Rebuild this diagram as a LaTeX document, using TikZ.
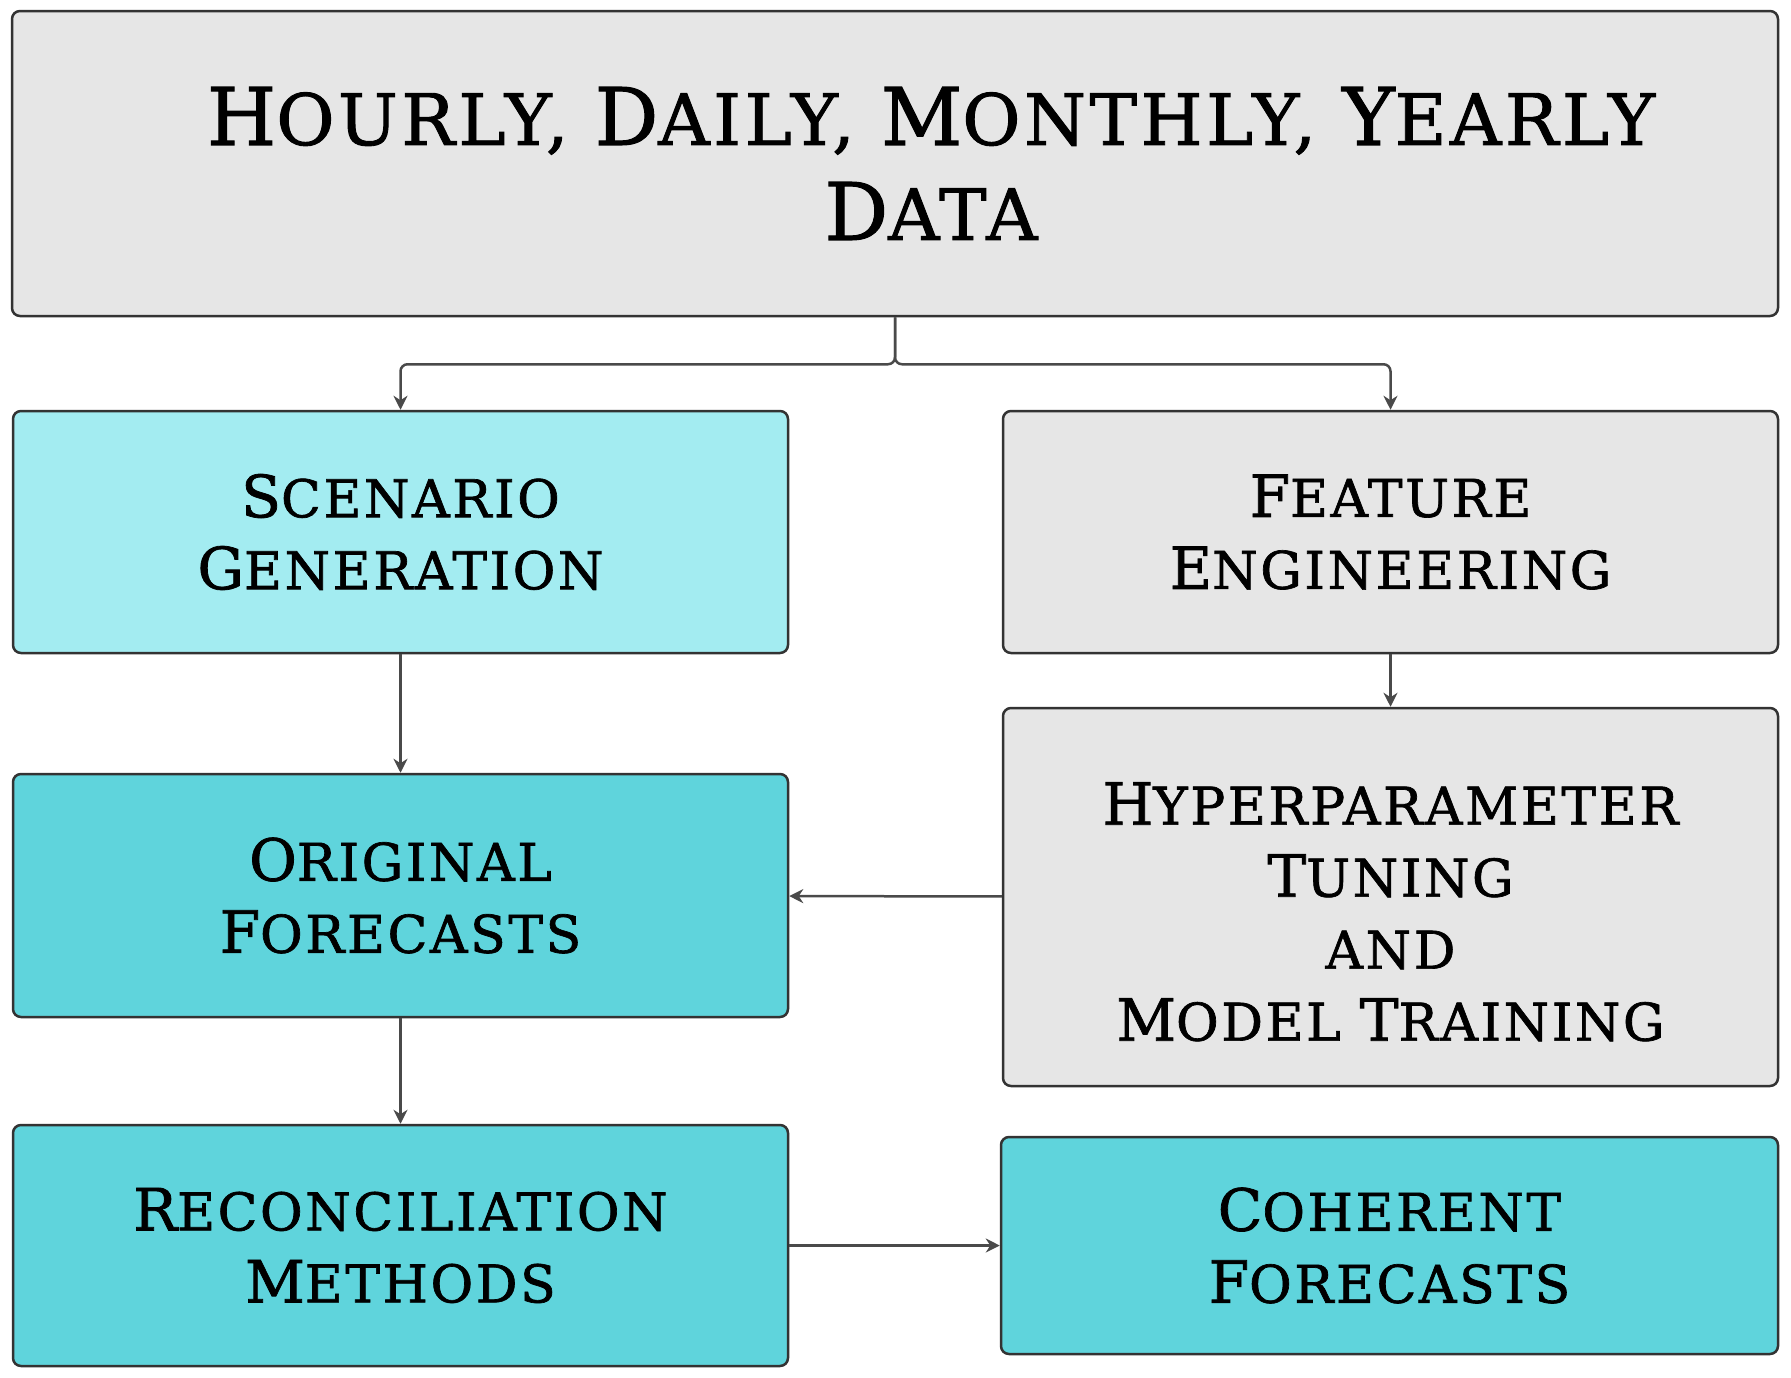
\documentclass[tikz,border=0pt]{standalone}
\usepackage{fontspec}
\usepackage{graphicx}
\usetikzlibrary{arrows.meta}
\newfontfamily\slab[LetterSpace=5,FakeBold=1.3]{DejaVu Serif}
\newcommand\Up[1]{\scalebox{1.12}{#1}}
\definecolor{boxgrey}{HTML}{E6E6E6}
\definecolor{lightcyan}{HTML}{A3ECF1}
\definecolor{midcyan}{HTML}{5FD4DC}
\definecolor{edge}{HTML}{333333}
\definecolor{wire}{HTML}{4A4A4A}
\begin{document}
\begin{tikzpicture}[x=1pt,y=-1pt,
  box/.style={draw=edge,line width=2.5pt,rounded corners=8pt,rectangle,
    align=center,inner sep=0pt,text=black,minimum width=775pt,
    font=\slab\fontsize{52}{72}\selectfont},
  bigbox/.style={box,font=\slab\fontsize{71}{95}\selectfont},
  arr/.style={draw=wire,line width=2.5pt,-{Stealth[length=14pt,width=14pt]}},
  junction/.style={draw=wire,line width=2.5pt,rounded corners=7pt,-{Stealth[length=14pt,width=14pt]}}]
\useasboundingbox (0,0) rectangle (1791,1377);
\node[bigbox,fill=boxgrey,minimum width=1766pt,minimum height=305pt] (top) at (895,163.5)
  {\hspace*{72pt}\Up{H}OURLY, \Up{D}AILY, \Up{M}ONTHLY, \Up{Y}EARLY\\\hspace*{72pt}\Up{D}ATA};
\node[box,fill=lightcyan,minimum height=242pt] (scen) at (400.5,532)
  {\Up{S}CENARIO\\\Up{G}ENERATION};
\node[box,fill=boxgrey,minimum height=242pt] (feat) at (1390.5,532)
  {\Up{F}EATURE\\\Up{E}NGINEERING};
\node[box,fill=midcyan,minimum height=243pt] (orig) at (400.5,895.5)
  {\Up{O}RIGINAL\\\Up{F}ORECASTS};
\node[box,fill=boxgrey,minimum height=378pt] (hyp) at (1390.5,897)
  {\rule{0pt}{18pt}\\[-18pt]\Up{H}YPERPARAMETER\\\Up{T}UNING\\AND\\\Up{M}ODEL \Up{T}RAINING};
\node[box,fill=midcyan,minimum height=241pt] (rec) at (400.5,1245.5)
  {\Up{R}ECONCILIATION\\\Up{M}ETHODS};
\node[box,fill=midcyan,minimum width=777pt,minimum height=217pt] (coh) at (1389.5,1245.5)
  {\Up{C}OHERENT\\\Up{F}ORECASTS};
\draw[junction] (top.south) -- ++(0,47) -| (scen.north);
\draw[junction] (top.south) -- ++(0,47) -| (feat.north);
\draw[arr] (scen) -- (orig);
\draw[arr] (orig) -- (rec);
\draw[arr] (feat) -- (hyp);
\draw[arr] (hyp) -- (orig);
\draw[arr] (rec) -- (coh);
\end{tikzpicture}
\end{document}
